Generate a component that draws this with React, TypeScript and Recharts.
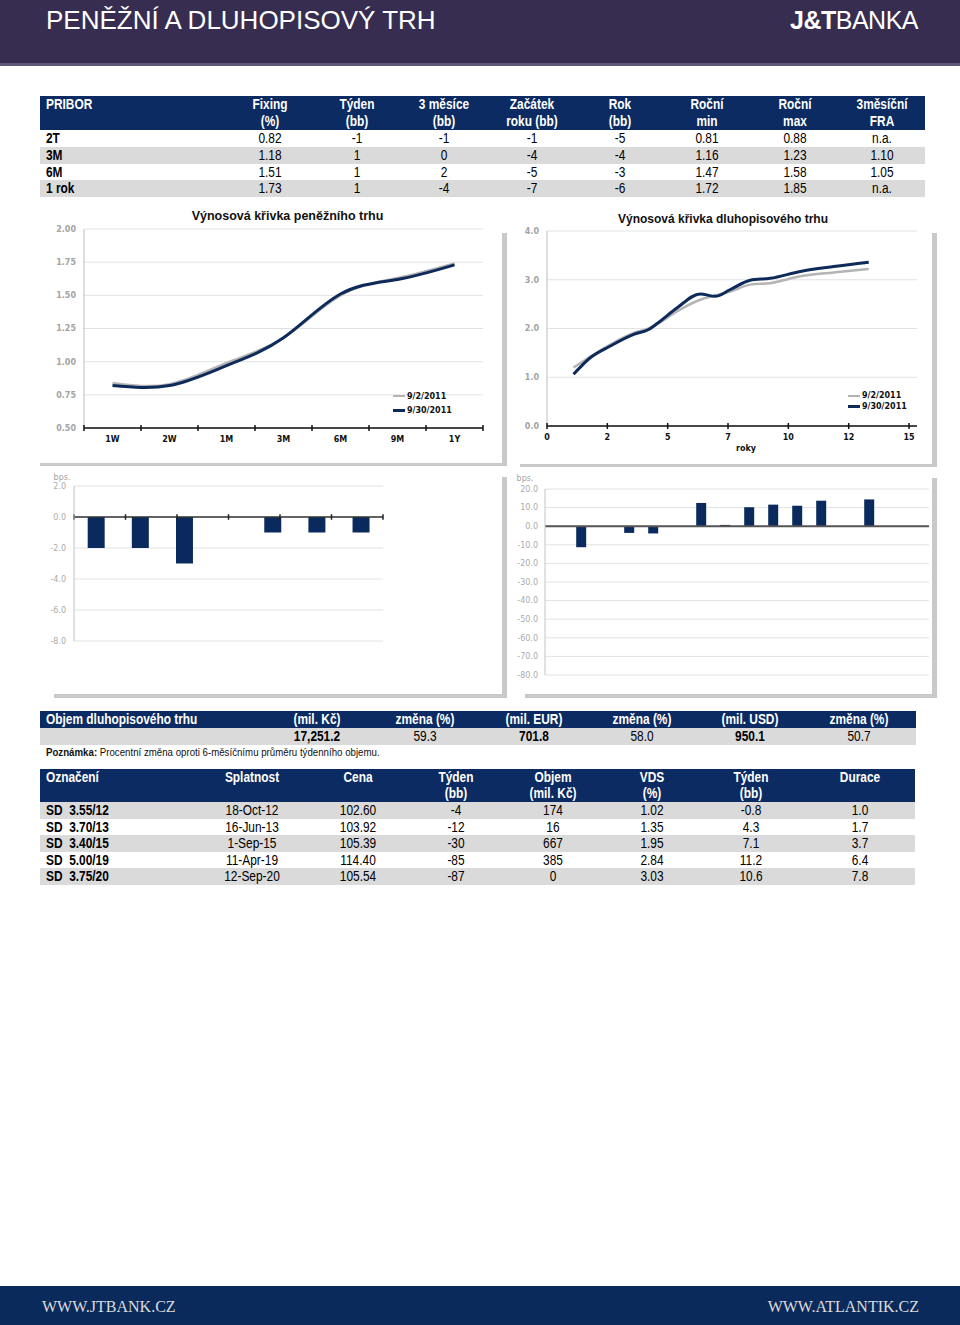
import React from "react";
import {
  Bar,
  BarChart,
  CartesianGrid,
  Legend,
  Line,
  LineChart,
  ReferenceLine,
  XAxis,
  YAxis,
} from "recharts";

// ---- colours & fonts ----
const HEADER_BG = "#372d51";
const NAVY = "#0c2b62";
const FOOTER_BG = "#0b2a5c";
const BAR_FILL = "#0a2a5e";
const LINE_DARK = "#0d2a5a";
const LINE_GRAY = "#b4b4b4";
const ROW_GRAY = "#dadada";
const GRID = "#e2e2e2";
const PANEL_EDGE = "#c9c9c9";
const TABLE_FONT = '"Liberation Sans", Arial, sans-serif';
const CHART_FONT = '"DejaVu Sans", Verdana, sans-serif';
const TITLE_FONT = '"Liberation Sans", Arial, sans-serif';
const NARROW = 0.85; // the tables use a condensed face

// ---- PRIBOR table ----
const priborHead1 = ["PRIBOR", "Fixing", "Týden", "3 měsíce", "Začátek", "Rok", "Roční", "Roční", "3měsíční"];
const priborHead2 = ["", "(%)", "(bb)", "(bb)", "roku (bb)", "(bb)", "min", "max", "FRA"];
const priborTenors = ["2T", "3M", "6M", "1 rok"];
const priborFixing = ["0.82", "1.18", "1.51", "1.73"];
const priborWeek = ["-1", "1", "1", "1"];
const priborThreeM = ["-1", "0", "2", "-4"];
const priborYtd = ["-1", "-4", "-5", "-7"];
const priborYear = ["-5", "-4", "-3", "-6"];
const priborMin = ["0.81", "1.16", "1.47", "1.72"];
const priborMax = ["0.88", "1.23", "1.58", "1.85"];
const priborFra = ["n.a.", "1.10", "1.05", "n.a."];
const priborColX = [46, 270, 357, 444, 532, 620, 707, 795, 882];

// ---- money market yield curve ----
const mmTenors = ["1W", "2W", "1M", "3M", "6M", "9M", "1Y"];
const mmYieldSep2 = [0.84, 0.83, 0.99, 1.18, 1.5, 1.63, 1.74];
const mmYieldSep30 = [0.82, 0.82, 0.97, 1.18, 1.51, 1.62, 1.73];
const mmTicks = [0.5, 0.75, 1.0, 1.25, 1.5, 1.75, 2.0];
const mmChangeBps = [-2, -2, -3, 0, -1, -1, -1];
const mmBarTicks = [-8, -6, -4, -2, 0, 2];

// ---- bond yield curve ----
const bondYears = [1.1, 1.79, 2.62, 3.59, 4.21, 4.69, 5.38, 6.35, 6.97, 7.6, 8.42, 9.25, 10.5, 11.88, 13.33];
const bondYieldSep2 = [1.2, 1.42, 1.67, 1.91, 2.0, 2.13, 2.35, 2.59, 2.68, 2.76, 2.9, 2.93, 3.07, 3.15, 3.22];
const bondYieldSep30 = [1.06, 1.4, 1.64, 1.88, 1.98, 2.15, 2.42, 2.71, 2.66, 2.8, 2.99, 3.03, 3.17, 3.27, 3.36];
const bondYearTicks = [0, 2.5, 5, 7.5, 10, 12.5, 15];
const bondYieldTicks = [0, 1, 2, 3, 4];
const bondBuckets = ["1", "2", "3", "4", "5", "6", "7", "8", "9", "10", "11", "12", "13", "14", "15", "16"];
const bondChangeBps = [null, -11.3, null, -3.6, -3.9, null, 12.5, 0.7, 10.2, 11.6, 11, 13.7, null, 14.4, null, null];
const bondBarTicks = [-80, -70, -60, -50, -40, -30, -20, -10, 0, 10, 20];

const seriesNames = ["9/2/2011", "9/30/2011"];

// ---- bond market volume ----
const volHead = ["Objem dluhopisového trhu", "(mil. Kč)", "změna (%)", "(mil. EUR)", "změna (%)", "(mil. USD)", "změna (%)"];
const volValues = ["", "17,251.2", "59.3", "701.8", "58.0", "950.1", "50.7"];
const volColX = [46, 317, 425, 534, 642, 750, 859];

// ---- government bonds ----
const bondHead1 = ["Označení", "Splatnost", "Cena", "Týden", "Objem", "VDS", "Týden", "Durace"];
const bondHead2 = ["", "", "", "(bb)", "(mil. Kč)", "(%)", "(bb)", ""];
const bondNames = ["SD  3.55/12", "SD  3.70/13", "SD  3.40/15", "SD  5.00/19", "SD  3.75/20"];
const bondMaturity = ["18-Oct-12", "16-Jun-13", "1-Sep-15", "11-Apr-19", "12-Sep-20"];
const bondPrice = ["102.60", "103.92", "105.39", "114.40", "105.54"];
const bondWeekPrice = ["-4", "-12", "-30", "-85", "-87"];
const bondVolume = ["174", "16", "667", "385", "0"];
const bondYield = ["1.02", "1.35", "1.95", "2.84", "3.03"];
const bondWeekYield = ["-0.8", "4.3", "7.1", "11.2", "10.6"];
const bondDuration = ["1.0", "1.7", "3.7", "6.4", "7.8"];
const bondColX = [46, 252, 358, 456, 553, 652, 751, 860];

const mmData = mmTenors.map((tenor, i) => ({
  tenor,
  sep2: mmYieldSep2[i],
  sep30: mmYieldSep30[i],
  bps: mmChangeBps[i],
}));
const bondCurve = bondYears.map((years, i) => ({
  years,
  sep2: bondYieldSep2[i],
  sep30: bondYieldSep30[i],
}));
const bondBars = bondBuckets.map((bucket, i) => ({ bucket, bps: bondChangeBps[i] }));

interface TextAtProps {
  x: number;
  y: number;
  h: number;
  center?: boolean;
  bold?: boolean;
  color?: string;
  size?: number;
  children: React.ReactNode;
}

function TextAt({ x, y, h, center, bold, color = "#000", size = 14, children }: TextAtProps) {
  const style: React.CSSProperties = {
    position: "absolute",
    top: y,
    height: h,
    lineHeight: `${h}px`,
    whiteSpace: "pre",
    fontWeight: bold ? 700 : 400,
    fontFamily: TABLE_FONT,
    fontSize: size,
    color,
    transform: `scaleX(${NARROW})`,
  };
  if (center) {
    style.left = x - 80;
    style.width = 160;
    style.textAlign = "center";
    style.transformOrigin = "center center";
  } else {
    style.left = x;
    style.transformOrigin = "left center";
  }
  return <div style={style}>{children}</div>;
}

function Box({ x, y, w, h, bg }: { x: number; y: number; w: number; h: number; bg: string }) {
  return <div style={{ position: "absolute", left: x, top: y, width: w, height: h, background: bg }} />;
}

const axisTick = { fill: "#a3a3a3", fontSize: 8, fontWeight: 700, fontFamily: CHART_FONT };
const barTick = { fill: "#ababab", fontSize: 8, fontFamily: CHART_FONT };

// category tick with Excel-style marks between categories
function bandTick(band: number, count: number) {
  return (props: any) => {
    const { x, y, payload, index } = props;
    const left = x - band / 2;
    return (
      <g>
        <line x1={left} x2={left} y1={y - 3} y2={y + 3} stroke="#111" strokeWidth={1.5} />
        {index === count - 1 && (
          <line x1={left + band} x2={left + band} y1={y - 3} y2={y + 3} stroke="#111" strokeWidth={1.5} />
        )}
        <text x={x} y={y + 14} textAnchor="middle" fontSize={8} fontWeight={700} fontFamily={CHART_FONT} fill="#111">
          {payload.value}
        </text>
      </g>
    );
  };
}

function yearTick(props: any) {
  const { x, y, payload } = props;
  return (
    <g>
      <line x1={x} x2={x} y1={y - 3} y2={y + 3} stroke="#111" strokeWidth={1.5} />
      <text x={x} y={y + 14} textAnchor="middle" fontSize={8} fontWeight={700} fontFamily={CHART_FONT} fill="#111">
        {Math.floor(payload.value)}
      </text>
    </g>
  );
}

function legendContent(rowHeight: number) {
  return (props: any) => {
    const items = props.payload || [];
    return (
      <div>
        {items.map((item: any) => (
          <div
            key={item.value}
            style={{ display: "flex", alignItems: "center", height: rowHeight, whiteSpace: "nowrap" }}
          >
            <span
              style={{
                display: "inline-block",
                width: 12,
                height: item.value === seriesNames[1] ? 3 : 2,
                background: item.color,
                marginRight: 2,
              }}
            />
            <span style={{ fontFamily: CHART_FONT, fontSize: 8, fontWeight: 700, color: "#111" }}>
              {item.value}
            </span>
          </div>
        ))}
      </div>
    );
  };
}

const MM_PLOT_W = 399;
const mmBand = MM_PLOT_W / mmTenors.length;

function MoneyMarketCurve() {
  return (
    <div style={{ position: "absolute", left: 40, top: 200, width: 465, height: 265 }}>
      <div
        style={{
          position: "absolute",
          left: 0,
          width: 495,
          top: 9,
          textAlign: "center",
          fontFamily: TITLE_FONT,
          fontWeight: 700,
          fontSize: 12.5,
          color: "#111",
        }}
      >
        Výnosová křivka peněžního trhu
      </div>
      <LineChart width={465} height={265} data={mmData} margin={{ top: 29, right: 22, bottom: 7, left: 0 }}>
        <CartesianGrid vertical={false} stroke={GRID} />
        <XAxis
          dataKey="tenor"
          interval={0}
          height={30}
          padding={{ left: mmBand / 2, right: mmBand / 2 }}
          axisLine={{ stroke: "#111", strokeWidth: 1.5 }}
          tickLine={false}
          tickSize={0}
          tickMargin={0}
          tick={bandTick(mmBand, mmTenors.length)}
        />
        <YAxis
          width={44}
          domain={[0.5, 2]}
          ticks={mmTicks}
          interval={0}
          tickFormatter={(v: number) => v.toFixed(2)}
          tick={axisTick}
          axisLine={{ stroke: "#bdbdbd" }}
          tickLine={false}
          tickSize={0}
          tickMargin={8}
        />
        <Legend
          layout="vertical"
          verticalAlign="middle"
          align="center"
          wrapperStyle={{ left: 353, top: 189, width: 90 }}
          content={legendContent(14)}
        />
        <Line
          type="natural"
          dataKey="sep2"
          name={seriesNames[0]}
          stroke={LINE_GRAY}
          strokeWidth={2.5}
          dot={false}
          activeDot={false}
          isAnimationActive={false}
        />
        <Line
          type="natural"
          dataKey="sep30"
          name={seriesNames[1]}
          stroke={LINE_DARK}
          strokeWidth={3}
          dot={false}
          activeDot={false}
          isAnimationActive={false}
        />
      </LineChart>
    </div>
  );
}

function BondCurve() {
  return (
    <div style={{ position: "absolute", left: 505, top: 200, width: 430, height: 265 }}>
      <div
        style={{
          position: "absolute",
          left: 0,
          width: 436,
          top: 12,
          textAlign: "center",
          fontFamily: TITLE_FONT,
          fontWeight: 700,
          fontSize: 12,
          color: "#111",
        }}
      >
        Výnosová křivka dluhopisového trhu
      </div>
      <LineChart width={430} height={265} data={bondCurve} margin={{ top: 31, right: 18, bottom: 9, left: 0 }}>
        <CartesianGrid vertical={false} stroke={GRID} />
        <XAxis
          dataKey="years"
          type="number"
          domain={[0, 15.33]}
          ticks={bondYearTicks}
          interval={0}
          height={30}
          axisLine={{ stroke: "#111", strokeWidth: 1.5 }}
          tickLine={false}
          tickSize={0}
          tickMargin={0}
          tick={yearTick}
          label={{
            value: "roky",
            position: "insideBottom",
            offset: 5,
            dx: 14,
            fontSize: 8,
            fontWeight: 700,
            fontFamily: CHART_FONT,
            fill: "#111",
          }}
        />
        <YAxis
          width={42}
          domain={[0, 4]}
          ticks={bondYieldTicks}
          interval={0}
          tickFormatter={(v: number) => v.toFixed(1)}
          tick={axisTick}
          axisLine={{ stroke: "#bdbdbd" }}
          tickLine={false}
          tickSize={0}
          tickMargin={8}
        />
        <Legend
          layout="vertical"
          verticalAlign="middle"
          align="center"
          wrapperStyle={{ left: 343, top: 190, width: 80 }}
          content={legendContent(11)}
        />
        <Line
          type="monotone"
          dataKey="sep2"
          name={seriesNames[0]}
          stroke={LINE_GRAY}
          strokeWidth={2.5}
          dot={false}
          activeDot={false}
          isAnimationActive={false}
        />
        <Line
          type="monotone"
          dataKey="sep30"
          name={seriesNames[1]}
          stroke={LINE_DARK}
          strokeWidth={3}
          dot={false}
          activeDot={false}
          isAnimationActive={false}
        />
      </LineChart>
    </div>
  );
}

const mmEdges = [...mmTenors.map((_, i) => i), mmTenors.length];

function MoneyMarketChange() {
  return (
    <div style={{ position: "absolute", left: 40, top: 470, width: 465, height: 230 }}>
      <BarChart
        width={465}
        height={230}
        data={mmData}
        margin={{ top: 16, right: 122, bottom: 59, left: 0 }}
        barCategoryGap="31%"
      >
        <CartesianGrid vertical={false} stroke={GRID} />
        <XAxis dataKey="tenor" hide />
        <XAxis xAxisId="edge" type="number" domain={[0, mmTenors.length]} hide />
        <YAxis
          width={34}
          domain={[-8, 2]}
          ticks={mmBarTicks}
          interval={0}
          tickFormatter={(v: number) => v.toFixed(1)}
          tick={barTick}
          axisLine={{ stroke: "#c4c4c4" }}
          tickLine={false}
          tickSize={0}
          tickMargin={8}
          label={{ value: "bps.", position: "top", offset: 6, dx: 5, fontSize: 8, fontFamily: CHART_FONT, fill: "#a3a3a3" }}
        />
        <Bar dataKey="bps" fill={BAR_FILL} isAnimationActive={false} />
        <ReferenceLine y={0} stroke="#333" strokeWidth={1.5} />
        {mmEdges.map((k) => (
          <ReferenceLine
            key={k}
            xAxisId="edge"
            segment={[
              { x: k, y: -0.18 },
              { x: k, y: 0.18 },
            ]}
            stroke="#222"
            strokeWidth={1.5}
          />
        ))}
      </BarChart>
    </div>
  );
}

function BondChange() {
  return (
    <div style={{ position: "absolute", left: 505, top: 470, width: 430, height: 230 }}>
      <BarChart
        width={430}
        height={230}
        data={bondBars}
        margin={{ top: 19, right: 6, bottom: 25, left: 0 }}
        barCategoryGap="30%"
      >
        <CartesianGrid vertical={false} stroke={GRID} />
        <XAxis dataKey="bucket" hide />
        <YAxis
          width={40}
          domain={[-80, 20]}
          ticks={bondBarTicks}
          interval={0}
          tickFormatter={(v: number) => v.toFixed(1)}
          tick={barTick}
          axisLine={{ stroke: "#c4c4c4" }}
          tickLine={false}
          tickSize={0}
          tickMargin={7}
          label={{ value: "bps.", position: "top", offset: 8, fontSize: 8, fontFamily: CHART_FONT, fill: "#a3a3a3" }}
        />
        <Bar dataKey="bps" fill={BAR_FILL} isAnimationActive={false} />
        <ReferenceLine y={0} stroke="#555" strokeWidth={2} />
      </BarChart>
    </div>
  );
}

export default function App() {
  const priborRows = priborTenors.map((t, i) => [
    t,
    priborFixing[i],
    priborWeek[i],
    priborThreeM[i],
    priborYtd[i],
    priborYear[i],
    priborMin[i],
    priborMax[i],
    priborFra[i],
  ]);
  const bondRows = bondNames.map((n, i) => [
    n,
    bondMaturity[i],
    bondPrice[i],
    bondWeekPrice[i],
    bondVolume[i],
    bondYield[i],
    bondWeekYield[i],
    bondDuration[i],
  ]);
  const rowH = 16.75;
  const bRowH = 16.6;

  return (
    <div
      style={{
        position: "absolute",
        left: 0,
        top: 0,
        width: 960,
        height: 1325,
        background: "#fff",
        overflow: "hidden",
      }}
    >
      {/* header */}
      <Box x={0} y={0} w={960} h={64} bg={HEADER_BG} />
      <Box x={0} y={63} w={960} h={3} bg="#5e5877" />
      <div
        style={{
          position: "absolute",
          left: 46,
          top: 4,
          fontFamily: TITLE_FONT,
          fontSize: 26,
          color: "#fff",
          lineHeight: "32px",
        }}
      >
        PENĚŽNÍ A DLUHOPISOVÝ TRH
      </div>
      <div
        style={{
          position: "absolute",
          right: 42,
          top: 4,
          fontFamily: TITLE_FONT,
          fontSize: 25,
          color: "#fff",
          lineHeight: "32px",
          letterSpacing: -0.5,
        }}
      >
        <span style={{ fontWeight: 700 }}>J&amp;T</span>BANKA
      </div>

      {/* PRIBOR table */}
      <Box x={40} y={96} w={885} h={34} bg={NAVY} />
      {priborHead1.map((h, c) => (
        <TextAt key={"ph1" + c} x={priborColX[c]} y={96} h={17} center={c > 0} bold color="#fff">
          {h}
        </TextAt>
      ))}
      {priborHead2.map((h, c) => (
        <TextAt key={"ph2" + c} x={priborColX[c]} y={113} h={17} center={c > 0} bold color="#fff">
          {h}
        </TextAt>
      ))}
      {priborRows.map((row, r) => (
        <React.Fragment key={"pr" + r}>
          {r % 2 === 1 && <Box x={40} y={130 + r * rowH} w={885} h={rowH} bg={ROW_GRAY} />}
          {row.map((v, c) => (
            <TextAt key={c} x={priborColX[c]} y={130 + r * rowH} h={rowH} center={c > 0} bold={c === 0}>
              {v}
            </TextAt>
          ))}
        </React.Fragment>
      ))}

      {/* charts */}
      <MoneyMarketCurve />
      <BondCurve />
      <MoneyMarketChange />
      <BondChange />

      {/* panel shadows */}
      <Box x={40} y={463} w={467} h={3} bg={PANEL_EDGE} />
      <Box x={502} y={233} w={5} h={233} bg={PANEL_EDGE} />
      <Box x={520} y={464} w={417} h={3} bg={PANEL_EDGE} />
      <Box x={932} y={233} w={5} h={234} bg={PANEL_EDGE} />
      <Box x={54} y={694} w={452} h={4} bg={PANEL_EDGE} />
      <Box x={502} y={477} w={5} h={221} bg={PANEL_EDGE} />
      <Box x={525} y={694} w={411} h={4} bg={PANEL_EDGE} />
      <Box x={932} y={478} w={5} h={220} bg={PANEL_EDGE} />

      {/* bond market volume */}
      <Box x={40} y={711} w={876} h={17} bg={NAVY} />
      <Box x={40} y={728} w={876} h={17} bg={ROW_GRAY} />
      {volHead.map((h, c) => (
        <TextAt key={"vh" + c} x={volColX[c]} y={711} h={17} center={c > 0} bold color="#fff">
          {h}
        </TextAt>
      ))}
      {volValues.map((v, c) => (
        <TextAt key={"vv" + c} x={volColX[c]} y={728} h={17} center={c > 0} bold={c % 2 === 1}>
          {v}
        </TextAt>
      ))}
      <div
        style={{
          position: "absolute",
          left: 46,
          top: 746,
          fontFamily: TABLE_FONT,
          fontSize: 11,
          lineHeight: "13px",
          color: "#111",
          whiteSpace: "nowrap",
          transform: "scaleX(0.88)",
          transformOrigin: "left center",
        }}
      >
        <b>Poznámka:</b> Procentní změna oproti 6-měsíčnímu průměru týdenního objemu.
      </div>

      {/* government bonds */}
      <Box x={40} y={769} w={875} h={33} bg={NAVY} />
      {bondHead1.map((h, c) => (
        <TextAt key={"bh1" + c} x={bondColX[c]} y={769} h={17} center={c > 0} bold color="#fff">
          {h}
        </TextAt>
      ))}
      {bondHead2.map((h, c) => (
        <TextAt key={"bh2" + c} x={bondColX[c]} y={785} h={17} center={c > 0} bold color="#fff">
          {h}
        </TextAt>
      ))}
      {bondRows.map((row, r) => (
        <React.Fragment key={"br" + r}>
          {r % 2 === 0 && <Box x={40} y={802 + r * bRowH} w={875} h={bRowH} bg={ROW_GRAY} />}
          {row.map((v, c) => (
            <TextAt key={c} x={bondColX[c]} y={802 + r * bRowH} h={bRowH} center={c > 0} bold={c === 0}>
              {v}
            </TextAt>
          ))}
        </React.Fragment>
      ))}

      {/* footer */}
      <Box x={0} y={1286} w={960} h={39} bg={FOOTER_BG} />
      <div
        style={{
          position: "absolute",
          left: 42,
          top: 1296,
          fontFamily: '"Liberation Serif", "Times New Roman", serif',
          fontSize: 16,
          lineHeight: "22px",
          color: "#dcdcdc",
        }}
      >
        WWW.JTBANK.CZ
      </div>
      <div
        style={{
          position: "absolute",
          right: 41,
          top: 1296,
          fontFamily: '"Liberation Serif", "Times New Roman", serif',
          fontSize: 16,
          lineHeight: "22px",
          color: "#dcdcdc",
        }}
      >
        WWW.ATLANTIK.CZ
      </div>
    </div>
  );
}
